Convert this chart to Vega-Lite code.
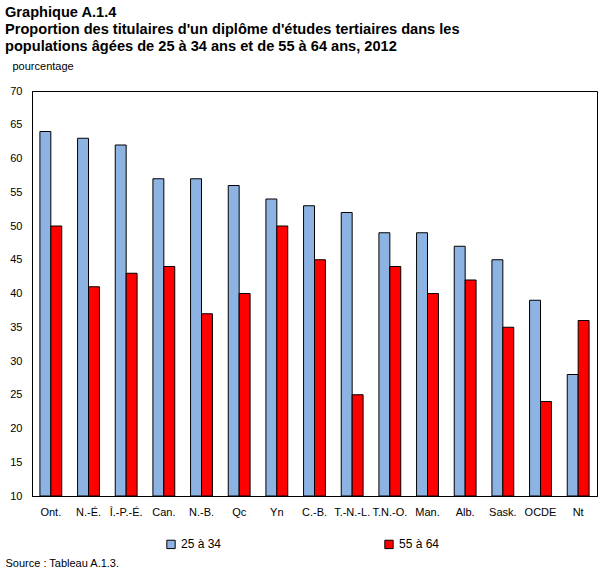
{
  "$schema": "https://vega.github.io/schema/vega-lite/v6.json",
  "width": 565,
  "height": 405,
  "autosize": {"type": "none"},
  "padding": {"left": 32, "top": 91, "right": 12, "bottom": 73},
  "background": "white",
  "config": {
    "font": "Liberation Sans",
    "view": {"stroke": "black", "strokeWidth": 1},
    "axis": {"labelFont": "Liberation Sans", "titleFont": "Liberation Sans", "labelColor": "black", "titleColor": "black"}
  },
  "title": {
    "text": ["Graphique A.1.4", "Proportion des titulaires d'un diplôme d'études tertiaires dans les", "populations âgées de 25 à 34 ans et de 55 à 64 ans, 2012"],
    "anchor": "start",
    "frame": "group",
    "dx": -27,
    "fontSize": 14.6,
    "fontWeight": "bold",
    "lineHeight": 17,
    "color": "black",
    "offset": 6
  },
  "data": {
    "values": [
      {"region": "Ont.", "groupe": "25 à 34", "valeur": 64},
      {"region": "Ont.", "groupe": "55 à 64", "valeur": 50},
      {"region": "N.-É.", "groupe": "25 à 34", "valeur": 63},
      {"region": "N.-É.", "groupe": "55 à 64", "valeur": 41},
      {"region": "Î.-P.-É.", "groupe": "25 à 34", "valeur": 62},
      {"region": "Î.-P.-É.", "groupe": "55 à 64", "valeur": 43},
      {"region": "Can.", "groupe": "25 à 34", "valeur": 57},
      {"region": "Can.", "groupe": "55 à 64", "valeur": 44},
      {"region": "N.-B.", "groupe": "25 à 34", "valeur": 57},
      {"region": "N.-B.", "groupe": "55 à 64", "valeur": 37},
      {"region": "Qc", "groupe": "25 à 34", "valeur": 56},
      {"region": "Qc", "groupe": "55 à 64", "valeur": 40},
      {"region": "Yn", "groupe": "25 à 34", "valeur": 54},
      {"region": "Yn", "groupe": "55 à 64", "valeur": 50},
      {"region": "C.-B.", "groupe": "25 à 34", "valeur": 53},
      {"region": "C.-B.", "groupe": "55 à 64", "valeur": 45},
      {"region": "T.-N.-L.", "groupe": "25 à 34", "valeur": 52},
      {"region": "T.-N.-L.", "groupe": "55 à 64", "valeur": 25},
      {"region": "T.N.-O.", "groupe": "25 à 34", "valeur": 49},
      {"region": "T.N.-O.", "groupe": "55 à 64", "valeur": 44},
      {"region": "Man.", "groupe": "25 à 34", "valeur": 49},
      {"region": "Man.", "groupe": "55 à 64", "valeur": 40},
      {"region": "Alb.", "groupe": "25 à 34", "valeur": 47},
      {"region": "Alb.", "groupe": "55 à 64", "valeur": 42},
      {"region": "Sask.", "groupe": "25 à 34", "valeur": 45},
      {"region": "Sask.", "groupe": "55 à 64", "valeur": 35},
      {"region": "OCDE", "groupe": "25 à 34", "valeur": 39},
      {"region": "OCDE", "groupe": "55 à 64", "valeur": 24},
      {"region": "Nt", "groupe": "25 à 34", "valeur": 28},
      {"region": "Nt", "groupe": "55 à 64", "valeur": 36}
    ]
  },
  "mark": {"type": "bar", "stroke": "black", "strokeWidth": 1},
  "encoding": {
    "x": {
      "field": "region",
      "type": "nominal",
      "sort": null,
      "scale": {"paddingInner": 0.42, "paddingOuter": 0.21},
      "axis": {
        "labelAngle": 0,
        "labelFontSize": 11,
        "ticks": false,
        "labelPadding": 10,
        "domainColor": "black",
        "title": "Source : Tableau A.1.3.",
        "titleFontSize": 11,
        "titleFontWeight": "normal",
        "titleAnchor": "start",
        "titleAlign": "left",
        "titleX": -27,
        "titleY": 70,
        "titleBaseline": "alphabetic"
      }
    },
    "xOffset": {"field": "groupe", "type": "nominal"},
    "y": {
      "field": "valeur",
      "type": "quantitative",
      "scale": {"domain": [10, 70], "nice": false, "zero": false},
      "axis": {
        "values": [10, 15, 20, 25, 30, 35, 40, 45, 50, 55, 60, 65, 70],
        "grid": false,
        "ticks": false,
        "labelPadding": 10,
        "labelFontSize": 11,
        "domainColor": "black",
        "title": "pourcentage",
        "titleAngle": 0,
        "titleFontSize": 11,
        "titleFontWeight": "normal",
        "titleAlign": "left",
        "titleBaseline": "alphabetic",
        "titleX": -20,
        "titleY": -22
      }
    },
    "y2": {"datum": 10},
    "color": {
      "field": "groupe",
      "type": "nominal",
      "scale": {"domain": ["25 à 34", "55 à 64"], "range": ["#8DB3E2", "#FF0000"]},
      "legend": {
        "title": null,
        "orient": "none",
        "direction": "horizontal",
        "legendX": 133,
        "legendY": 447,
        "symbolType": "square",
        "symbolSize": 70,
        "symbolStrokeColor": "black",
        "symbolStrokeWidth": 1,
        "labelFontSize": 12,
        "labelColor": "black",
        "columnPadding": 160,
        "labelOffset": 4
      }
    }
  }
}
